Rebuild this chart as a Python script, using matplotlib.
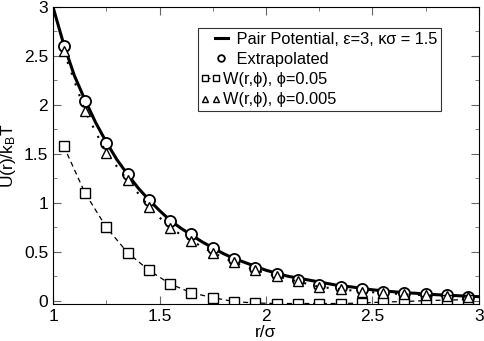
import numpy as np
import matplotlib
matplotlib.use("Agg")
import matplotlib.pyplot as plt
from matplotlib.ticker import MultipleLocator, FuncFormatter
from matplotlib.legend_handler import HandlerLine2D

plt.rcParams['font.family'] = ['Liberation Sans', 'DejaVu Sans']
plt.rcParams['mathtext.fontset'] = 'custom'
plt.rcParams['mathtext.rm'] = 'Liberation Sans'
plt.rcParams['mathtext.it'] = 'Liberation Sans:italic'

# DATA
# pair potential curve
r_line = [1.00, 1.05, 1.10, 1.15, 1.20, 1.25, 1.30, 1.35, 1.40, 1.45,
          1.50, 1.55, 1.60, 1.65, 1.70, 1.75, 1.80, 1.85, 1.90, 1.95,
          2.00, 2.05, 2.10, 2.15, 2.20, 2.25, 2.30, 2.35, 2.40, 2.45,
          2.50, 2.55, 2.60, 2.65, 2.70, 2.75, 2.80, 2.85, 2.90, 2.95, 3.00]
u_pair = [3.00, 2.62, 2.30, 2.05, 1.82, 1.62, 1.44, 1.29, 1.15, 1.03,
          0.92, 0.82, 0.74, 0.67, 0.60, 0.54, 0.48, 0.43, 0.39, 0.35,
          0.31, 0.28, 0.25, 0.23, 0.21, 0.19, 0.17, 0.15, 0.14, 0.125,
          0.11, 0.10, 0.09, 0.08, 0.075, 0.068, 0.06, 0.055, 0.05, 0.045, 0.04]

# sampled points
r_pts = [1.05, 1.15, 1.25, 1.35, 1.45, 1.55, 1.65, 1.75, 1.85, 1.95,
         2.05, 2.15, 2.25, 2.35, 2.45, 2.55, 2.65, 2.75, 2.85, 2.95]
u_extrap = [2.60, 2.04, 1.61, 1.29, 1.03, 0.81, 0.68, 0.54, 0.42, 0.33,
            0.27, 0.21, 0.16, 0.137, 0.116, 0.09, 0.075, 0.065, 0.055, 0.04]
w_005 = [1.58, 1.10, 0.75, 0.49, 0.31, 0.17, 0.08, 0.03, -0.01, -0.025,
         -0.03, -0.03, -0.03, -0.03, -0.025, -0.015, -0.01, 0.0, 0.005, 0.01]
w_0005 = [2.55, 1.94, 1.51, 1.23, 0.96, 0.74, 0.61, 0.49, 0.39, 0.31,
          0.25, 0.195, 0.14, 0.117, 0.09, 0.08, 0.063, 0.055, 0.048, 0.038]

# first two labels are indented like in the original legend
labels = ["   Pair Potential, ε=3, κσ = 1.5", "   Extrapolated",
          "W(r,ϕ), ϕ=0.05", "W(r,ϕ), ϕ=0.005"]


class SpanHandler(HandlerLine2D):
    """legend handle drawn between x0 and x1 (points from handle box left)"""
    def __init__(self, x0, x1, marker_x=None, **kw):
        super().__init__(**kw)
        self.x0, self.x1, self.mx = x0, x1, marker_x

    def get_xdata(self, legend, xdescent, ydescent, width, height, fontsize):
        xd = np.array([self.x0, self.x1]) - xdescent
        if self.mx is None:
            return xd, xd
        return xd, np.array([self.mx]) - xdescent


# PLOTTING
fig = plt.figure(figsize=(4.85, 3.41), dpi=100)
ax = fig.add_axes([0.1093, 0.1085, 0.8783, 0.871])

l_pair, = ax.plot(r_line, u_pair, color="k", lw=2.2, label=labels[0])
l_ext, = ax.plot(r_pts, u_extrap, "o", ms=8, mfc="white", mec="k", mew=1.3,
                 label=labels[1])
l_w1, = ax.plot(r_pts, w_005, "s--", color="k", lw=0.9, ms=6.5, mfc="white",
                mec="k", mew=1.0, dashes=(4, 3), label=labels[2])
l_w2, = ax.plot(r_pts, w_0005, "^", color="k", ls=(0, (1, 4.5)), lw=1.5, ms=7,
                mfc="white", mec="k", mew=1.0, label=labels[3])

ax.set_xlim(1, 3)
ax.set_ylim(-0.035, 3)

ax.xaxis.set_major_locator(MultipleLocator(0.5))
ax.xaxis.set_minor_locator(MultipleLocator(0.25))
ax.yaxis.set_major_locator(MultipleLocator(0.5))
ax.yaxis.set_minor_locator(MultipleLocator(0.25))
fmt = FuncFormatter(lambda v, p: "{:g}".format(v))
ax.xaxis.set_major_formatter(fmt)
ax.yaxis.set_major_formatter(fmt)
ax.tick_params(which="both", direction="in", top=True, right=True, labelsize=12.5,
               color="0.4")
ax.tick_params(which="major", length=6)
ax.tick_params(which="minor", length=3)

ax.set_xlabel("r/σ", fontsize=12.5, labelpad=1)
ax.set_ylabel(r"U(r)/k$_\mathrm{B}$T", fontsize=12.5, labelpad=4)

hmap = {l_pair: SpanHandler(9.5, 18.5),
        l_ext: SpanHandler(9.5, 18.5, marker_x=12.5),
        l_w1: HandlerLine2D(numpoints=2, marker_pad=0.18),
        l_w2: HandlerLine2D(numpoints=2, marker_pad=0.18)}
leg = ax.legend(handles=[l_pair, l_ext, l_w1, l_w2], loc="upper right",
                bbox_to_anchor=(0.911, 0.929), borderaxespad=0,
                fontsize=11.8, frameon=True, fancybox=False, edgecolor="k",
                handlelength=1.04, handletextpad=0.25, borderpad=0.22,
                labelspacing=0.32, markerscale=0.6, handler_map=hmap)
leg.get_frame().set_linewidth(0.8)

fig.savefig("out.png", dpi=100)
